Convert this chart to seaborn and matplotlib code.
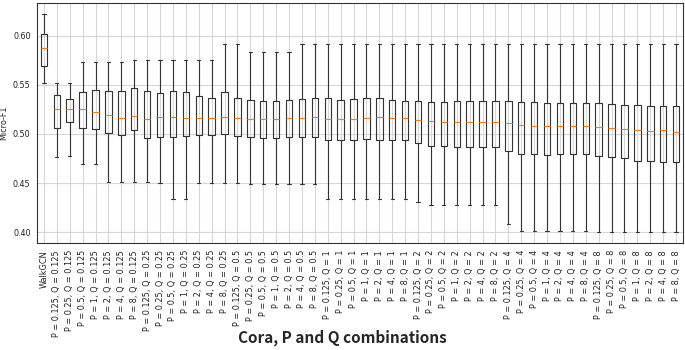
import numpy as np
import pandas as pd
import matplotlib
matplotlib.use("Agg")
import matplotlib.pyplot as plt
import seaborn as sns

p_vals = ["0.125", "0.25", "0.5", "1", "2", "4", "8"]
q_vals = ["0.125", "0.25", "0.5", "1", "2", "4", "8"]
labels = ["WalkGCN"] + [f"P = {p}, Q = {q}" for q in q_vals for p in p_vals]

# five-number summaries (min, Q1, median, Q3, max)
whis_low = [0.552, 0.476, 0.478, 0.469, 0.469, 0.451, 0.451, 0.451, 0.451, 0.4496,
            0.4337, 0.4337, 0.4496, 0.4496, 0.4496, 0.4496, 0.4486, 0.4486, 0.4486, 0.4486,
            0.4486, 0.4486, 0.4337, 0.4337, 0.4337, 0.4337, 0.4337, 0.4337, 0.4337, 0.4303,
            0.428, 0.428, 0.428, 0.428, 0.428, 0.428, 0.4084, 0.4013, 0.4013, 0.4013,
            0.4013, 0.4013, 0.4013, 0.400, 0.400, 0.400, 0.400, 0.400, 0.400, 0.400]
q1 = [0.569, 0.506, 0.5118, 0.5064, 0.5054, 0.5013, 0.4993, 0.5037, 0.4959, 0.4966,
      0.4972, 0.4976, 0.4993, 0.4993, 0.5003, 0.4976, 0.4972, 0.4962, 0.4959, 0.4966,
      0.4972, 0.4972, 0.4942, 0.4942, 0.4942, 0.4945, 0.4942, 0.4942, 0.4942, 0.4912,
      0.4874, 0.4874, 0.4871, 0.4871, 0.4871, 0.4864, 0.4827, 0.4797, 0.4797, 0.479,
      0.4797, 0.4797, 0.4797, 0.478, 0.4766, 0.4753, 0.4729, 0.4729, 0.4719, 0.4719]
median = [0.5878, 0.5253, 0.5253, 0.5253, 0.5223, 0.5196, 0.5165, 0.5185, 0.5152, 0.5168,
          0.5175, 0.5165, 0.5162, 0.5165, 0.5175, 0.5162, 0.5155, 0.5155, 0.5155, 0.5162,
          0.5162, 0.5168, 0.5155, 0.5155, 0.5155, 0.5162, 0.5168, 0.5162, 0.5162, 0.5145,
          0.5135, 0.5125, 0.5118, 0.5118, 0.5118, 0.5118, 0.5108, 0.5091, 0.5084, 0.5077,
          0.5077, 0.5077, 0.5077, 0.507, 0.506, 0.505, 0.5043, 0.5033, 0.5037, 0.5023]
q3 = [0.602, 0.5395, 0.5354, 0.5422, 0.5449, 0.5432, 0.5439, 0.5466, 0.5439, 0.5415,
      0.5439, 0.5422, 0.5388, 0.5368, 0.5422, 0.5368, 0.5344, 0.5337, 0.5337, 0.5344,
      0.5354, 0.5365, 0.5365, 0.5348, 0.5354, 0.5361, 0.5361, 0.5348, 0.5337, 0.5337,
      0.5327, 0.5327, 0.5331, 0.5331, 0.5331, 0.5331, 0.5331, 0.5324, 0.5324, 0.5317,
      0.5317, 0.5317, 0.531, 0.531, 0.530, 0.5294, 0.5294, 0.5287, 0.5287, 0.528]
whis_high = [0.622, 0.552, 0.552, 0.5733, 0.5733, 0.5733, 0.5733, 0.575, 0.575, 0.575,
             0.575, 0.575, 0.575, 0.575, 0.5916, 0.5916, 0.5834, 0.5834, 0.5834, 0.5834,
             0.5916, 0.5916, 0.5916, 0.5916, 0.5916, 0.5916, 0.5916, 0.5916, 0.5916, 0.5916,
             0.5916, 0.5916, 0.5916, 0.5916, 0.5916, 0.5916, 0.5916, 0.5916, 0.5916, 0.5916,
             0.5916, 0.5916, 0.5916, 0.5916, 0.5916, 0.5916, 0.5916, 0.5916, 0.5916, 0.5916]

rows = []
for i, lab in enumerate(labels):
    for v in (whis_low[i], q1[i], median[i], q3[i], whis_high[i]):
        rows.append({"combo": lab, "f1": v})
df = pd.DataFrame(rows)

sns.set_style("whitegrid")
plt.rcParams["font.family"] = ["DejaVu Sans"]

fig = plt.figure(figsize=(6.85, 3.5), dpi=100)
ax = fig.add_axes([0.0547, 0.3057, 0.9417, 0.6853])

sns.boxplot(data=df, x="combo", y="f1", order=labels, ax=ax, whis=(0, 100),
            fill=False, color="#333333", width=0.5, linewidth=0.8,
            medianprops={"color": "#ff7f0e", "linewidth": 0.8},
            capwidths=0.25)

ax.set_xlim(-0.5, len(labels) - 0.5)
ax.set_ylim(0.389, 0.633)
ax.set_yticks([0.40, 0.45, 0.50, 0.55, 0.60])
ax.set_yticklabels(["0.40", "0.45", "0.50", "0.55", "0.60"])
ax.tick_params(axis="x", labelrotation=90, labelsize=5.9, length=3, width=0.8,
               color="#333333", pad=2, labelcolor="#222222")
ax.tick_params(axis="y", labelsize=5.8, length=3, width=0.8, color="#333333", pad=2,
               labelcolor="#222222")
ax.set_xlabel("")
ax.set_ylabel("Micro-F1", fontsize=5.8, labelpad=3, color="#222222")
ax.grid(True, color="#d6d6d6", linewidth=0.8)
for s in ax.spines.values():
    s.set_color("#333333")
    s.set_linewidth(0.8)
    s.set_visible(True)

fig.text(0.5, 0.035, "Cora, P and Q combinations", ha="center", va="center",
         fontsize=11, fontweight="bold", family=["Noto Sans CJK KR", "DejaVu Sans"])

fig.savefig("out.png", dpi=100)
